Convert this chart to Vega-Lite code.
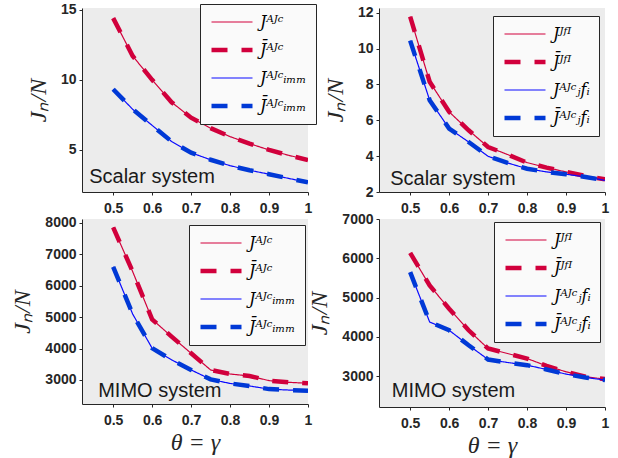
{
  "$schema": "https://vega.github.io/schema/vega-lite/v6.json",
  "background": "white",
  "padding": {"left": 10, "top": 2, "right": 5, "bottom": 5},
  "datasets": {
    "d": [
      {"panel":"a","series":"J\u1d2c\u1d36\u1d9c","theta":0.5,"value":14.4},
      {"panel":"a","series":"J\u1d2c\u1d36\u1d9c","theta":0.55,"value":11.7},
      {"panel":"a","series":"J\u1d2c\u1d36\u1d9c","theta":0.6,"value":10.0},
      {"panel":"a","series":"J\u1d2c\u1d36\u1d9c","theta":0.65,"value":8.4},
      {"panel":"a","series":"J\u1d2c\u1d36\u1d9c","theta":0.7,"value":7.3},
      {"panel":"a","series":"J\u1d2c\u1d36\u1d9c","theta":0.75,"value":6.55},
      {"panel":"a","series":"J\u1d2c\u1d36\u1d9c","theta":0.8,"value":5.95},
      {"panel":"a","series":"J\u1d2c\u1d36\u1d9c","theta":0.85,"value":5.45},
      {"panel":"a","series":"J\u1d2c\u1d36\u1d9c","theta":0.9,"value":5.0},
      {"panel":"a","series":"J\u1d2c\u1d36\u1d9c","theta":0.95,"value":4.62},
      {"panel":"a","series":"J\u1d2c\u1d36\u1d9c","theta":1.0,"value":4.28},
      {"panel":"a","series":"J\u0304\u1d2c\u1d36\u1d9c","theta":0.5,"value":14.4},
      {"panel":"a","series":"J\u0304\u1d2c\u1d36\u1d9c","theta":0.55,"value":11.7},
      {"panel":"a","series":"J\u0304\u1d2c\u1d36\u1d9c","theta":0.6,"value":10.0},
      {"panel":"a","series":"J\u0304\u1d2c\u1d36\u1d9c","theta":0.65,"value":8.4},
      {"panel":"a","series":"J\u0304\u1d2c\u1d36\u1d9c","theta":0.7,"value":7.3},
      {"panel":"a","series":"J\u0304\u1d2c\u1d36\u1d9c","theta":0.75,"value":6.55},
      {"panel":"a","series":"J\u0304\u1d2c\u1d36\u1d9c","theta":0.8,"value":5.95},
      {"panel":"a","series":"J\u0304\u1d2c\u1d36\u1d9c","theta":0.85,"value":5.45},
      {"panel":"a","series":"J\u0304\u1d2c\u1d36\u1d9c","theta":0.9,"value":5.0},
      {"panel":"a","series":"J\u0304\u1d2c\u1d36\u1d9c","theta":0.95,"value":4.62},
      {"panel":"a","series":"J\u0304\u1d2c\u1d36\u1d9c","theta":1.0,"value":4.28},
      {"panel":"a","series":"J\u1d2c\u1d36\u1d9c\u1d62\u2098\u2098","theta":0.5,"value":9.33},
      {"panel":"a","series":"J\u1d2c\u1d36\u1d9c\u1d62\u2098\u2098","theta":0.55,"value":7.9},
      {"panel":"a","series":"J\u1d2c\u1d36\u1d9c\u1d62\u2098\u2098","theta":0.6,"value":6.75},
      {"panel":"a","series":"J\u1d2c\u1d36\u1d9c\u1d62\u2098\u2098","theta":0.65,"value":5.6},
      {"panel":"a","series":"J\u1d2c\u1d36\u1d9c\u1d62\u2098\u2098","theta":0.7,"value":4.8},
      {"panel":"a","series":"J\u1d2c\u1d36\u1d9c\u1d62\u2098\u2098","theta":0.75,"value":4.3},
      {"panel":"a","series":"J\u1d2c\u1d36\u1d9c\u1d62\u2098\u2098","theta":0.8,"value":3.88},
      {"panel":"a","series":"J\u1d2c\u1d36\u1d9c\u1d62\u2098\u2098","theta":0.85,"value":3.55},
      {"panel":"a","series":"J\u1d2c\u1d36\u1d9c\u1d62\u2098\u2098","theta":0.9,"value":3.27},
      {"panel":"a","series":"J\u1d2c\u1d36\u1d9c\u1d62\u2098\u2098","theta":0.95,"value":2.97},
      {"panel":"a","series":"J\u1d2c\u1d36\u1d9c\u1d62\u2098\u2098","theta":1.0,"value":2.69},
      {"panel":"a","series":"J\u0304\u1d2c\u1d36\u1d9c\u1d62\u2098\u2098","theta":0.5,"value":9.33},
      {"panel":"a","series":"J\u0304\u1d2c\u1d36\u1d9c\u1d62\u2098\u2098","theta":0.55,"value":7.9},
      {"panel":"a","series":"J\u0304\u1d2c\u1d36\u1d9c\u1d62\u2098\u2098","theta":0.6,"value":6.75},
      {"panel":"a","series":"J\u0304\u1d2c\u1d36\u1d9c\u1d62\u2098\u2098","theta":0.65,"value":5.6},
      {"panel":"a","series":"J\u0304\u1d2c\u1d36\u1d9c\u1d62\u2098\u2098","theta":0.7,"value":4.8},
      {"panel":"a","series":"J\u0304\u1d2c\u1d36\u1d9c\u1d62\u2098\u2098","theta":0.75,"value":4.3},
      {"panel":"a","series":"J\u0304\u1d2c\u1d36\u1d9c\u1d62\u2098\u2098","theta":0.8,"value":3.88},
      {"panel":"a","series":"J\u0304\u1d2c\u1d36\u1d9c\u1d62\u2098\u2098","theta":0.85,"value":3.55},
      {"panel":"a","series":"J\u0304\u1d2c\u1d36\u1d9c\u1d62\u2098\u2098","theta":0.9,"value":3.27},
      {"panel":"a","series":"J\u0304\u1d2c\u1d36\u1d9c\u1d62\u2098\u2098","theta":0.95,"value":2.97},
      {"panel":"a","series":"J\u0304\u1d2c\u1d36\u1d9c\u1d62\u2098\u2098","theta":1.0,"value":2.69},

      {"panel":"b","series":"J\u1d36\u1da0\u1d35","theta":0.5,"value":11.78},
      {"panel":"b","series":"J\u1d36\u1da0\u1d35","theta":0.55,"value":8.15},
      {"panel":"b","series":"J\u1d36\u1da0\u1d35","theta":0.6,"value":6.47},
      {"panel":"b","series":"J\u1d36\u1da0\u1d35","theta":0.65,"value":5.44},
      {"panel":"b","series":"J\u1d36\u1da0\u1d35","theta":0.7,"value":4.51},
      {"panel":"b","series":"J\u1d36\u1da0\u1d35","theta":0.75,"value":4.09},
      {"panel":"b","series":"J\u1d36\u1da0\u1d35","theta":0.8,"value":3.64},
      {"panel":"b","series":"J\u1d36\u1da0\u1d35","theta":0.85,"value":3.36},
      {"panel":"b","series":"J\u1d36\u1da0\u1d35","theta":0.9,"value":3.12},
      {"panel":"b","series":"J\u1d36\u1da0\u1d35","theta":0.95,"value":2.89},
      {"panel":"b","series":"J\u1d36\u1da0\u1d35","theta":1.0,"value":2.71},
      {"panel":"b","series":"J\u0304\u1d36\u1da0\u1d35","theta":0.5,"value":11.78},
      {"panel":"b","series":"J\u0304\u1d36\u1da0\u1d35","theta":0.55,"value":8.15},
      {"panel":"b","series":"J\u0304\u1d36\u1da0\u1d35","theta":0.6,"value":6.47},
      {"panel":"b","series":"J\u0304\u1d36\u1da0\u1d35","theta":0.65,"value":5.44},
      {"panel":"b","series":"J\u0304\u1d36\u1da0\u1d35","theta":0.7,"value":4.51},
      {"panel":"b","series":"J\u0304\u1d36\u1da0\u1d35","theta":0.75,"value":4.09},
      {"panel":"b","series":"J\u0304\u1d36\u1da0\u1d35","theta":0.8,"value":3.64},
      {"panel":"b","series":"J\u0304\u1d36\u1da0\u1d35","theta":0.85,"value":3.36},
      {"panel":"b","series":"J\u0304\u1d36\u1da0\u1d35","theta":0.9,"value":3.12},
      {"panel":"b","series":"J\u0304\u1d36\u1da0\u1d35","theta":0.95,"value":2.89},
      {"panel":"b","series":"J\u0304\u1d36\u1da0\u1d35","theta":1.0,"value":2.71},
      {"panel":"b","series":"J\u1d2c\u1d36\u1d9c\u2c7cf\u1d62","theta":0.5,"value":10.44},
      {"panel":"b","series":"J\u1d2c\u1d36\u1d9c\u2c7cf\u1d62","theta":0.55,"value":7.12},
      {"panel":"b","series":"J\u1d2c\u1d36\u1d9c\u2c7cf\u1d62","theta":0.6,"value":5.54},
      {"panel":"b","series":"J\u1d2c\u1d36\u1d9c\u2c7cf\u1d62","theta":0.65,"value":4.79},
      {"panel":"b","series":"J\u1d2c\u1d36\u1d9c\u2c7cf\u1d62","theta":0.7,"value":3.99},
      {"panel":"b","series":"J\u1d2c\u1d36\u1d9c\u2c7cf\u1d62","theta":0.75,"value":3.62},
      {"panel":"b","series":"J\u1d2c\u1d36\u1d9c\u2c7cf\u1d62","theta":0.8,"value":3.30},
      {"panel":"b","series":"J\u1d2c\u1d36\u1d9c\u2c7cf\u1d62","theta":0.85,"value":3.12},
      {"panel":"b","series":"J\u1d2c\u1d36\u1d9c\u2c7cf\u1d62","theta":0.9,"value":2.99},
      {"panel":"b","series":"J\u1d2c\u1d36\u1d9c\u2c7cf\u1d62","theta":0.95,"value":2.84},
      {"panel":"b","series":"J\u1d2c\u1d36\u1d9c\u2c7cf\u1d62","theta":1.0,"value":2.65},
      {"panel":"b","series":"J\u0304\u1d2c\u1d36\u1d9c\u2c7cf\u1d62","theta":0.5,"value":10.44},
      {"panel":"b","series":"J\u0304\u1d2c\u1d36\u1d9c\u2c7cf\u1d62","theta":0.55,"value":7.12},
      {"panel":"b","series":"J\u0304\u1d2c\u1d36\u1d9c\u2c7cf\u1d62","theta":0.6,"value":5.54},
      {"panel":"b","series":"J\u0304\u1d2c\u1d36\u1d9c\u2c7cf\u1d62","theta":0.65,"value":4.79},
      {"panel":"b","series":"J\u0304\u1d2c\u1d36\u1d9c\u2c7cf\u1d62","theta":0.7,"value":3.99},
      {"panel":"b","series":"J\u0304\u1d2c\u1d36\u1d9c\u2c7cf\u1d62","theta":0.75,"value":3.62},
      {"panel":"b","series":"J\u0304\u1d2c\u1d36\u1d9c\u2c7cf\u1d62","theta":0.8,"value":3.30},
      {"panel":"b","series":"J\u0304\u1d2c\u1d36\u1d9c\u2c7cf\u1d62","theta":0.85,"value":3.12},
      {"panel":"b","series":"J\u0304\u1d2c\u1d36\u1d9c\u2c7cf\u1d62","theta":0.9,"value":2.99},
      {"panel":"b","series":"J\u0304\u1d2c\u1d36\u1d9c\u2c7cf\u1d62","theta":0.95,"value":2.84},
      {"panel":"b","series":"J\u0304\u1d2c\u1d36\u1d9c\u2c7cf\u1d62","theta":1.0,"value":2.65},

      {"panel":"c","series":"J\u1d2c\u1d36\u1d9c","theta":0.5,"value":7857},
      {"panel":"c","series":"J\u1d2c\u1d36\u1d9c","theta":0.55,"value":6450},
      {"panel":"c","series":"J\u1d2c\u1d36\u1d9c","theta":0.6,"value":4930},
      {"panel":"c","series":"J\u1d2c\u1d36\u1d9c","theta":0.65,"value":4380},
      {"panel":"c","series":"J\u1d2c\u1d36\u1d9c","theta":0.7,"value":3850},
      {"panel":"c","series":"J\u1d2c\u1d36\u1d9c","theta":0.75,"value":3320},
      {"panel":"c","series":"J\u1d2c\u1d36\u1d9c","theta":0.8,"value":3190},
      {"panel":"c","series":"J\u1d2c\u1d36\u1d9c","theta":0.85,"value":3127},
      {"panel":"c","series":"J\u1d2c\u1d36\u1d9c","theta":0.9,"value":2980},
      {"panel":"c","series":"J\u1d2c\u1d36\u1d9c","theta":0.95,"value":2926},
      {"panel":"c","series":"J\u1d2c\u1d36\u1d9c","theta":1.0,"value":2894},
      {"panel":"c","series":"J\u0304\u1d2c\u1d36\u1d9c","theta":0.5,"value":7857},
      {"panel":"c","series":"J\u0304\u1d2c\u1d36\u1d9c","theta":0.55,"value":6450},
      {"panel":"c","series":"J\u0304\u1d2c\u1d36\u1d9c","theta":0.6,"value":4930},
      {"panel":"c","series":"J\u0304\u1d2c\u1d36\u1d9c","theta":0.65,"value":4380},
      {"panel":"c","series":"J\u0304\u1d2c\u1d36\u1d9c","theta":0.7,"value":3850},
      {"panel":"c","series":"J\u0304\u1d2c\u1d36\u1d9c","theta":0.75,"value":3320},
      {"panel":"c","series":"J\u0304\u1d2c\u1d36\u1d9c","theta":0.8,"value":3190},
      {"panel":"c","series":"J\u0304\u1d2c\u1d36\u1d9c","theta":0.85,"value":3127},
      {"panel":"c","series":"J\u0304\u1d2c\u1d36\u1d9c","theta":0.9,"value":2980},
      {"panel":"c","series":"J\u0304\u1d2c\u1d36\u1d9c","theta":0.95,"value":2926},
      {"panel":"c","series":"J\u0304\u1d2c\u1d36\u1d9c","theta":1.0,"value":2894},
      {"panel":"c","series":"J\u1d2c\u1d36\u1d9c\u1d62\u2098\u2098","theta":0.5,"value":6600},
      {"panel":"c","series":"J\u1d2c\u1d36\u1d9c\u1d62\u2098\u2098","theta":0.55,"value":5100},
      {"panel":"c","series":"J\u1d2c\u1d36\u1d9c\u1d62\u2098\u2098","theta":0.6,"value":4010},
      {"panel":"c","series":"J\u1d2c\u1d36\u1d9c\u1d62\u2098\u2098","theta":0.65,"value":3640},
      {"panel":"c","series":"J\u1d2c\u1d36\u1d9c\u1d62\u2098\u2098","theta":0.7,"value":3320},
      {"panel":"c","series":"J\u1d2c\u1d36\u1d9c\u1d62\u2098\u2098","theta":0.75,"value":3020},
      {"panel":"c","series":"J\u1d2c\u1d36\u1d9c\u1d62\u2098\u2098","theta":0.8,"value":2890},
      {"panel":"c","series":"J\u1d2c\u1d36\u1d9c\u1d62\u2098\u2098","theta":0.85,"value":2810},
      {"panel":"c","series":"J\u1d2c\u1d36\u1d9c\u1d62\u2098\u2098","theta":0.9,"value":2710},
      {"panel":"c","series":"J\u1d2c\u1d36\u1d9c\u1d62\u2098\u2098","theta":0.95,"value":2680},
      {"panel":"c","series":"J\u1d2c\u1d36\u1d9c\u1d62\u2098\u2098","theta":1.0,"value":2660},
      {"panel":"c","series":"J\u0304\u1d2c\u1d36\u1d9c\u1d62\u2098\u2098","theta":0.5,"value":6600},
      {"panel":"c","series":"J\u0304\u1d2c\u1d36\u1d9c\u1d62\u2098\u2098","theta":0.55,"value":5100},
      {"panel":"c","series":"J\u0304\u1d2c\u1d36\u1d9c\u1d62\u2098\u2098","theta":0.6,"value":4010},
      {"panel":"c","series":"J\u0304\u1d2c\u1d36\u1d9c\u1d62\u2098\u2098","theta":0.65,"value":3640},
      {"panel":"c","series":"J\u0304\u1d2c\u1d36\u1d9c\u1d62\u2098\u2098","theta":0.7,"value":3320},
      {"panel":"c","series":"J\u0304\u1d2c\u1d36\u1d9c\u1d62\u2098\u2098","theta":0.75,"value":3020},
      {"panel":"c","series":"J\u0304\u1d2c\u1d36\u1d9c\u1d62\u2098\u2098","theta":0.8,"value":2890},
      {"panel":"c","series":"J\u0304\u1d2c\u1d36\u1d9c\u1d62\u2098\u2098","theta":0.85,"value":2810},
      {"panel":"c","series":"J\u0304\u1d2c\u1d36\u1d9c\u1d62\u2098\u2098","theta":0.9,"value":2710},
      {"panel":"c","series":"J\u0304\u1d2c\u1d36\u1d9c\u1d62\u2098\u2098","theta":0.95,"value":2680},
      {"panel":"c","series":"J\u0304\u1d2c\u1d36\u1d9c\u1d62\u2098\u2098","theta":1.0,"value":2660},

      {"panel":"d","series":"J\u1d36\u1da0\u1d35","theta":0.5,"value":6136},
      {"panel":"d","series":"J\u1d36\u1da0\u1d35","theta":0.55,"value":5308},
      {"panel":"d","series":"J\u1d36\u1da0\u1d35","theta":0.6,"value":4716},
      {"panel":"d","series":"J\u1d36\u1da0\u1d35","theta":0.65,"value":4167},
      {"panel":"d","series":"J\u1d36\u1da0\u1d35","theta":0.7,"value":3702},
      {"panel":"d","series":"J\u1d36\u1da0\u1d35","theta":0.75,"value":3575},
      {"panel":"d","series":"J\u1d36\u1da0\u1d35","theta":0.8,"value":3448},
      {"panel":"d","series":"J\u1d36\u1da0\u1d35","theta":0.85,"value":3262},
      {"panel":"d","series":"J\u1d36\u1da0\u1d35","theta":0.9,"value":3110},
      {"panel":"d","series":"J\u1d36\u1da0\u1d35","theta":0.95,"value":2983},
      {"panel":"d","series":"J\u1d36\u1da0\u1d35","theta":1.0,"value":2924},
      {"panel":"d","series":"J\u0304\u1d36\u1da0\u1d35","theta":0.5,"value":6136},
      {"panel":"d","series":"J\u0304\u1d36\u1da0\u1d35","theta":0.55,"value":5308},
      {"panel":"d","series":"J\u0304\u1d36\u1da0\u1d35","theta":0.6,"value":4716},
      {"panel":"d","series":"J\u0304\u1d36\u1da0\u1d35","theta":0.65,"value":4167},
      {"panel":"d","series":"J\u0304\u1d36\u1da0\u1d35","theta":0.7,"value":3702},
      {"panel":"d","series":"J\u0304\u1d36\u1da0\u1d35","theta":0.75,"value":3575},
      {"panel":"d","series":"J\u0304\u1d36\u1da0\u1d35","theta":0.8,"value":3448},
      {"panel":"d","series":"J\u0304\u1d36\u1da0\u1d35","theta":0.85,"value":3262},
      {"panel":"d","series":"J\u0304\u1d36\u1da0\u1d35","theta":0.9,"value":3110},
      {"panel":"d","series":"J\u0304\u1d36\u1da0\u1d35","theta":0.95,"value":2983},
      {"panel":"d","series":"J\u0304\u1d36\u1da0\u1d35","theta":1.0,"value":2924},
      {"panel":"d","series":"J\u1d2c\u1d36\u1d9c\u2c7cf\u1d62","theta":0.5,"value":5646},
      {"panel":"d","series":"J\u1d2c\u1d36\u1d9c\u2c7cf\u1d62","theta":0.55,"value":4378},
      {"panel":"d","series":"J\u1d2c\u1d36\u1d9c\u2c7cf\u1d62","theta":0.6,"value":4167},
      {"panel":"d","series":"J\u1d2c\u1d36\u1d9c\u2c7cf\u1d62","theta":0.65,"value":3786},
      {"panel":"d","series":"J\u1d2c\u1d36\u1d9c\u2c7cf\u1d62","theta":0.7,"value":3423},
      {"panel":"d","series":"J\u1d2c\u1d36\u1d9c\u2c7cf\u1d62","theta":0.75,"value":3347},
      {"panel":"d","series":"J\u1d2c\u1d36\u1d9c\u2c7cf\u1d62","theta":0.8,"value":3279},
      {"panel":"d","series":"J\u1d2c\u1d36\u1d9c\u2c7cf\u1d62","theta":0.85,"value":3169},
      {"panel":"d","series":"J\u1d2c\u1d36\u1d9c\u2c7cf\u1d62","theta":0.9,"value":3051},
      {"panel":"d","series":"J\u1d2c\u1d36\u1d9c\u2c7cf\u1d62","theta":0.95,"value":2966},
      {"panel":"d","series":"J\u1d2c\u1d36\u1d9c\u2c7cf\u1d62","theta":1.0,"value":2899},
      {"panel":"d","series":"J\u0304\u1d2c\u1d36\u1d9c\u2c7cf\u1d62","theta":0.5,"value":5646},
      {"panel":"d","series":"J\u0304\u1d2c\u1d36\u1d9c\u2c7cf\u1d62","theta":0.55,"value":4378},
      {"panel":"d","series":"J\u0304\u1d2c\u1d36\u1d9c\u2c7cf\u1d62","theta":0.6,"value":4167},
      {"panel":"d","series":"J\u0304\u1d2c\u1d36\u1d9c\u2c7cf\u1d62","theta":0.65,"value":3786},
      {"panel":"d","series":"J\u0304\u1d2c\u1d36\u1d9c\u2c7cf\u1d62","theta":0.7,"value":3423},
      {"panel":"d","series":"J\u0304\u1d2c\u1d36\u1d9c\u2c7cf\u1d62","theta":0.75,"value":3347},
      {"panel":"d","series":"J\u0304\u1d2c\u1d36\u1d9c\u2c7cf\u1d62","theta":0.8,"value":3279},
      {"panel":"d","series":"J\u0304\u1d2c\u1d36\u1d9c\u2c7cf\u1d62","theta":0.85,"value":3169},
      {"panel":"d","series":"J\u0304\u1d2c\u1d36\u1d9c\u2c7cf\u1d62","theta":0.9,"value":3051},
      {"panel":"d","series":"J\u0304\u1d2c\u1d36\u1d9c\u2c7cf\u1d62","theta":0.95,"value":2966},
      {"panel":"d","series":"J\u0304\u1d2c\u1d36\u1d9c\u2c7cf\u1d62","theta":1.0,"value":2899}
    ]
  },
  "config": {
    "view": {"fill": "#ececec", "stroke": null},
    "axis": {
      "grid": false,
      "domainColor": "#262626",
      "tickColor": "#262626",
      "tickSize": 3,
      "tickCount": 12,
      "labelColor": "#262626",
      "labelFont": "Liberation Sans",
      "labelFontWeight": "bold",
      "labelFontSize": 14,
      "labelPadding": 3,
      "labelOverlap": false,
      "titleColor": "#262626",
      "titleFont": "Liberation Serif",
      "titleFontStyle": "italic",
      "titleFontWeight": "normal",
      "titleFontSize": 24
    },
    "axisX": {"labelPadding": 6, "titlePadding": 3, "labelFlush": false},
    "axisY": {"titlePadding": 10},
    "legend": {
      "orient": "none",
      "title": null,
      "fillColor": "#fafafa",
      "strokeColor": "#262626",
      "padding": 9,
      "symbolType": "stroke",
      "symbolSize": 1681,
      "clipHeight": 18,
      "rowPadding": 10,
      "labelOffset": 5,
      "labelFont": "DejaVu Serif",
      "labelFontStyle": "italic",
      "labelFontSize": 16,
      "labelColor": "#000000"
    },
    "text": {"font": "Liberation Sans", "fontSize": 20, "color": "#1a1a1a", "align": "left", "baseline": "alphabetic"}
  },
  "resolve": {
    "scale": {"color": "independent", "strokeWidth": "independent", "strokeDash": "independent"},
    "legend": {"color": "independent", "strokeWidth": "independent", "strokeDash": "independent"}
  },
  "bounds": "flush",
  "columns": 2,
  "spacing": {"row": 27, "column": 71},
  "concat": [
    {
      "width": 226, "height": 184,
      "layer": [
        {
          "data": {"name": "d"},
          "transform": [{"filter": "datum.panel === 'a'"}],
          "mark": {"type": "line", "clip": true},
          "encoding": {
            "x": {"field": "theta", "type": "quantitative", "scale": {"domain": [0.42, 1], "nice": false, "zero": false}, "axis": {"values": [0.5, 0.6, 0.7, 0.8, 0.9, 1], "tickCount": 12, "format": "~g", "title": null}},
            "y": {"field": "value", "type": "quantitative", "scale": {"domain": [2, 15.12], "nice": false, "zero": false}, "axis": {"values": [5, 10, 15], "tickCount": 12, "labelOverlap": false, "title": "J\u2099/N"}},
            "color": {"field": "series", "type": "nominal", "scale": {"domain": ["J\u1d2c\u1d36\u1d9c", "J\u0304\u1d2c\u1d36\u1d9c", "J\u1d2c\u1d36\u1d9c\u1d62\u2098\u2098", "J\u0304\u1d2c\u1d36\u1d9c\u1d62\u2098\u2098"], "range": ["#d1003c", "#d1003c", "#0a0aff", "#0039d6"]}, "legend": {"legendX": 118, "legendY": -4}},
            "strokeWidth": {"field": "series", "type": "nominal", "scale": {"type": "ordinal", "domain": ["J\u1d2c\u1d36\u1d9c", "J\u0304\u1d2c\u1d36\u1d9c", "J\u1d2c\u1d36\u1d9c\u1d62\u2098\u2098", "J\u0304\u1d2c\u1d36\u1d9c\u1d62\u2098\u2098"], "range": [1.2, 4.5, 1.2, 4.5]}},
            "strokeDash": {"field": "series", "type": "nominal", "scale": {"domain": ["J\u1d2c\u1d36\u1d9c", "J\u0304\u1d2c\u1d36\u1d9c", "J\u1d2c\u1d36\u1d9c\u1d62\u2098\u2098", "J\u0304\u1d2c\u1d36\u1d9c\u1d62\u2098\u2098"], "range": [[1, 0], [16, 14], [1, 0], [16, 14]]}}
          }
        },
        {
          "data": {"values": [{}]},
          "mark": {"type": "text"},
          "encoding": {"x": {"datum": 0.4385}, "y": {"datum": 2.66}, "text": {"value": "Scalar system"}}
        }
      ]
    },
    {
      "width": 226, "height": 184,
      "layer": [
        {
          "data": {"name": "d"},
          "transform": [{"filter": "datum.panel === 'b'"}],
          "mark": {"type": "line", "clip": true},
          "encoding": {
            "x": {"field": "theta", "type": "quantitative", "scale": {"domain": [0.42, 1], "nice": false, "zero": false}, "axis": {"values": [0.5, 0.6, 0.7, 0.8, 0.9, 1], "tickCount": 12, "format": "~g", "title": null}},
            "y": {"field": "value", "type": "quantitative", "scale": {"domain": [2, 12.26], "nice": false, "zero": false}, "axis": {"values": [2, 4, 6, 8, 10, 12], "tickCount": 12, "labelOverlap": false, "title": "J\u2099/N"}},
            "color": {"field": "series", "type": "nominal", "scale": {"domain": ["J\u1d36\u1da0\u1d35", "J\u0304\u1d36\u1da0\u1d35", "J\u1d2c\u1d36\u1d9c\u2c7cf\u1d62", "J\u0304\u1d2c\u1d36\u1d9c\u2c7cf\u1d62"], "range": ["#d1003c", "#d1003c", "#0a0aff", "#0039d6"]}, "legend": {"legendX": 114, "legendY": 8}},
            "strokeWidth": {"field": "series", "type": "nominal", "scale": {"type": "ordinal", "domain": ["J\u1d36\u1da0\u1d35", "J\u0304\u1d36\u1da0\u1d35", "J\u1d2c\u1d36\u1d9c\u2c7cf\u1d62", "J\u0304\u1d2c\u1d36\u1d9c\u2c7cf\u1d62"], "range": [1.2, 4.5, 1.2, 4.5]}},
            "strokeDash": {"field": "series", "type": "nominal", "scale": {"domain": ["J\u1d36\u1da0\u1d35", "J\u0304\u1d36\u1da0\u1d35", "J\u1d2c\u1d36\u1d9c\u2c7cf\u1d62", "J\u0304\u1d2c\u1d36\u1d9c\u2c7cf\u1d62"], "range": [[1, 0], [16, 14], [1, 0], [16, 14]]}}
          }
        },
        {
          "data": {"values": [{}]},
          "mark": {"type": "text"},
          "encoding": {"x": {"datum": 0.4487}, "y": {"datum": 2.37}, "text": {"value": "Scalar system"}}
        }
      ]
    },
    {
      "width": 226, "height": 185,
      "layer": [
        {
          "data": {"name": "d"},
          "transform": [{"filter": "datum.panel === 'c'"}],
          "mark": {"type": "line", "clip": true},
          "encoding": {
            "x": {"field": "theta", "type": "quantitative", "scale": {"domain": [0.42, 1], "nice": false, "zero": false}, "axis": {"values": [0.5, 0.6, 0.7, 0.8, 0.9, 1], "tickCount": 12, "format": "~g", "title": "\u03b8 = \u03b3"}},
            "y": {"field": "value", "type": "quantitative", "scale": {"domain": [2236, 8122], "nice": false, "zero": false}, "axis": {"values": [3000, 4000, 5000, 6000, 7000, 8000], "tickCount": 12, "labelOverlap": false, "format": "d", "title": "J\u2099/N"}},
            "color": {"field": "series", "type": "nominal", "scale": {"domain": ["J\u1d2c\u1d36\u1d9c", "J\u0304\u1d2c\u1d36\u1d9c", "J\u1d2c\u1d36\u1d9c\u1d62\u2098\u2098", "J\u0304\u1d2c\u1d36\u1d9c\u1d62\u2098\u2098"], "range": ["#d1003c", "#d1003c", "#0a0aff", "#0039d6"]}, "legend": {"legendX": 107, "legendY": 6}},
            "strokeWidth": {"field": "series", "type": "nominal", "scale": {"type": "ordinal", "domain": ["J\u1d2c\u1d36\u1d9c", "J\u0304\u1d2c\u1d36\u1d9c", "J\u1d2c\u1d36\u1d9c\u1d62\u2098\u2098", "J\u0304\u1d2c\u1d36\u1d9c\u1d62\u2098\u2098"], "range": [1.2, 4.5, 1.2, 4.5]}},
            "strokeDash": {"field": "series", "type": "nominal", "scale": {"domain": ["J\u1d2c\u1d36\u1d9c", "J\u0304\u1d2c\u1d36\u1d9c", "J\u1d2c\u1d36\u1d9c\u1d62\u2098\u2098", "J\u0304\u1d2c\u1d36\u1d9c\u1d62\u2098\u2098"], "range": [[1, 0], [16, 14], [1, 0], [16, 14]]}}
          }
        },
        {
          "data": {"values": [{}]},
          "mark": {"type": "text"},
          "encoding": {"x": {"datum": 0.4615}, "y": {"datum": 2468}, "text": {"value": "MIMO system"}}
        }
      ]
    },
    {
      "width": 226, "height": 188,
      "layer": [
        {
          "data": {"name": "d"},
          "transform": [{"filter": "datum.panel === 'd'"}],
          "mark": {"type": "line", "clip": true},
          "encoding": {
            "x": {"field": "theta", "type": "quantitative", "scale": {"domain": [0.42, 1], "nice": false, "zero": false}, "axis": {"values": [0.5, 0.6, 0.7, 0.8, 0.9, 1], "tickCount": 12, "format": "~g", "title": "\u03b8 = \u03b3"}},
            "y": {"field": "value", "type": "quantitative", "scale": {"domain": [2214, 7000], "nice": false, "zero": false}, "axis": {"values": [3000, 4000, 5000, 6000, 7000], "tickCount": 12, "labelOverlap": false, "format": "d", "title": "J\u2099/N"}},
            "color": {"field": "series", "type": "nominal", "scale": {"domain": ["J\u1d36\u1da0\u1d35", "J\u0304\u1d36\u1da0\u1d35", "J\u1d2c\u1d36\u1d9c\u2c7cf\u1d62", "J\u0304\u1d2c\u1d36\u1d9c\u2c7cf\u1d62"], "range": ["#d1003c", "#d1003c", "#0a0aff", "#0039d6"]}, "legend": {"legendX": 115, "legendY": 3}},
            "strokeWidth": {"field": "series", "type": "nominal", "scale": {"type": "ordinal", "domain": ["J\u1d36\u1da0\u1d35", "J\u0304\u1d36\u1da0\u1d35", "J\u1d2c\u1d36\u1d9c\u2c7cf\u1d62", "J\u0304\u1d2c\u1d36\u1d9c\u2c7cf\u1d62"], "range": [1.2, 4.5, 1.2, 4.5]}},
            "strokeDash": {"field": "series", "type": "nominal", "scale": {"domain": ["J\u1d36\u1da0\u1d35", "J\u0304\u1d36\u1da0\u1d35", "J\u1d2c\u1d36\u1d9c\u2c7cf\u1d62", "J\u0304\u1d2c\u1d36\u1d9c\u2c7cf\u1d62"], "range": [[1, 0], [16, 14], [1, 0], [16, 14]]}}
          }
        },
        {
          "data": {"values": [{}]},
          "mark": {"type": "text"},
          "encoding": {"x": {"datum": 0.453}, "y": {"datum": 2475}, "text": {"value": "MIMO system"}}
        }
      ]
    }
  ]
}
